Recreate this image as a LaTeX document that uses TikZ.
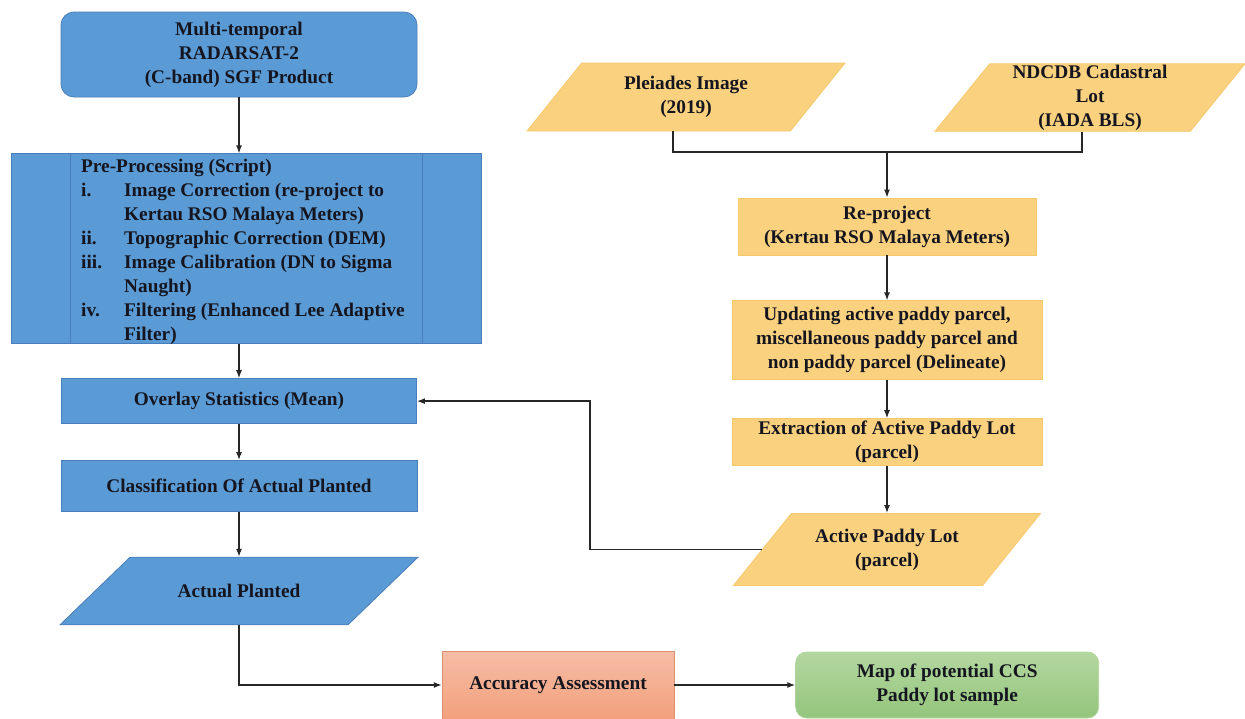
\documentclass[tikz,border=0pt]{standalone}
\usepackage{fontspec}
\setmainfont{Liberation Serif}
\usepackage{tikz}
\usetikzlibrary{shapes,arrows,arrows.meta,positioning,calc}
\definecolor{radarblue}{HTML}{5B9BD5}
\definecolor{radaredge}{HTML}{4A7EBB}
\definecolor{lotyellow}{HTML}{FAD27F}
\definecolor{lotedge}{HTML}{F6C86C}
\definecolor{assesstop}{HTML}{F5BDA6}
\definecolor{assessbot}{HTML}{F3A07C}
\definecolor{maptop}{HTML}{B3D79F}
\definecolor{mapbot}{HTML}{94C57C}
\definecolor{inktext}{HTML}{15151F}

\begin{document}
\begin{tikzpicture}[
    x=1pt, y=-1pt,
    font=\fontsize{19.3}{24}\selectfont\bfseries,
    box/.style={rectangle, draw=radaredge, fill=radarblue, line width=0.8pt, align=center, inner sep=0pt, text=inktext},
    roundbox/.style={box, rounded corners=13pt},
    slantblue/.style={trapezium, trapezium left angle=44, trapezium right angle=136, trapezium stretches body, draw=radaredge, fill=radarblue, line width=0.8pt, align=center, inner xsep=0pt, text=inktext},
    goldbox/.style={rectangle, draw=lotedge, fill=lotyellow, line width=0.8pt, align=center, inner sep=0pt, text=inktext},
    slantgold/.style={trapezium, trapezium left angle=51, trapezium right angle=129, trapezium stretches body, draw=lotedge, fill=lotyellow, line width=0.8pt, align=center, inner xsep=0pt, text=inktext},
    assessbox/.style={rectangle, draw=assessbot!90!black, top color=assesstop, bottom color=assessbot, line width=0.5pt, align=center, inner sep=0pt, text=inktext},
    mapbox/.style={rectangle, rounded corners=11pt, draw=maptop, top color=maptop, bottom color=mapbot, line width=0.8pt, align=center, inner sep=0pt, text=inktext},
    arrow/.style={-{Latex[length=8pt,width=6pt]}, line width=1.3pt, draw=black!85},
    line/.style={line width=1.3pt, draw=black!85}
]
\useasboundingbox (0,0) rectangle (1245,718);
\clip (0,0) rectangle (1245,718);
% Radar column (left)
\node[roundbox, minimum width=356pt, minimum height=85pt] (radarsat) at (239,54.5) {Multi-temporal\\RADARSAT-2\\(C-band) SGF Product};
\node[box, minimum width=470pt, minimum height=190pt, below=56pt of radarsat, xshift=7pt] (prepro) {};
\draw[radaredge, line width=0.8pt] (70,153.5) -- (70,343.5) (422,153.5) -- (422,343.5);
\node[anchor=north west, inner sep=0pt, text=inktext, align=left] (prepsteps) at (81,155) {%
  \begin{tabular}{@{}l@{}l@{}}
  \multicolumn{2}{@{}l@{}}{Pre-Processing (Script)}\\
  \makebox[43pt][l]{i.} & Image Correction (re-project to\\
   & Kertau RSO Malaya Meters)\\
  ii. & Topographic Correction (DEM)\\
  iii. & Image Calibration (DN to Sigma\\
   & Naught)\\
  iv. & Filtering (Enhanced Lee Adaptive\\
   & Filter)
  \end{tabular}};
\node[box, minimum width=355pt, minimum height=45pt, below=34pt of prepro, xshift=-7pt] (overlay) {Overlay Statistics (Mean)};
\node[box, minimum width=356pt, minimum height=51pt, below=36pt of overlay] (classify) {Classification Of Actual Planted};
\node[slantblue, inner ysep=27pt, minimum width=358pt, minimum height=67pt, below=45pt of classify] (planted) {Actual Planted};
% Outputs (bottom)
\node[assessbox, minimum width=232pt, minimum height=68pt] (accuracy) at (558,685) {Accuracy Assessment};
\node[mapbox, minimum width=303pt, minimum height=66pt, right=121pt of accuracy] (ccsmap) {Map of potential CCS\\Paddy lot sample};
% Cadastral column (right)
\node[slantgold, inner ysep=13pt, minimum width=318pt, minimum height=68pt] (pleiades) at (686,97) {Pleiades Image\\(2019)};
\node[slantgold, inner ysep=1pt, minimum width=310pt, minimum height=67pt] (ndcdb) at (1090,97.5) {NDCDB Cadastral\\Lot\\(IADA BLS)};
\coordinate (merge) at (887,152);
\node[goldbox, minimum width=298pt, minimum height=57pt] (reproject) at (887,226.5) {Re-project\\(Kertau RSO Malaya Meters)};
\node[goldbox, minimum width=310pt, minimum height=79pt, below=45pt of reproject] (update) {Updating active paddy parcel,\\miscellaneous paddy parcel and\\non paddy parcel (Delineate)};
\node[goldbox, minimum width=310pt, minimum height=47pt, below=38pt of update] (extract) {Extraction of Active Paddy Lot\\(parcel)};
\node[slantgold, inner ysep=15pt, minimum width=307pt, minimum height=72pt, below=47pt of extract] (activelot) {Active Paddy Lot\\(parcel)};
% Arrows left column
\draw[arrow] (radarsat.south) -- (radarsat.south |- prepro.north);
\draw[arrow] (prepro.south -| overlay) -- (overlay);
\draw[arrow] (overlay) -- (classify);
\draw[arrow] (classify.south) -- (classify.south |- planted.north);
\draw[arrow] (planted.south) |- (accuracy.west);
\draw[arrow] (accuracy) -- (ccsmap);
% Arrows right column
\draw[line] ([xshift=-13pt]pleiades.south) |- (merge) -| ([xshift=-8pt]ndcdb.south);
\draw[arrow] (merge) -- (reproject);
\draw[arrow] (reproject) -- (update);
\draw[arrow] (update) -- (extract);
\draw[arrow] (extract.south) -- (extract.south |- activelot.north);
\draw[arrow] (activelot.west) -- ++(-172,0) |- (overlay.east);
\end{tikzpicture}
\end{document}
